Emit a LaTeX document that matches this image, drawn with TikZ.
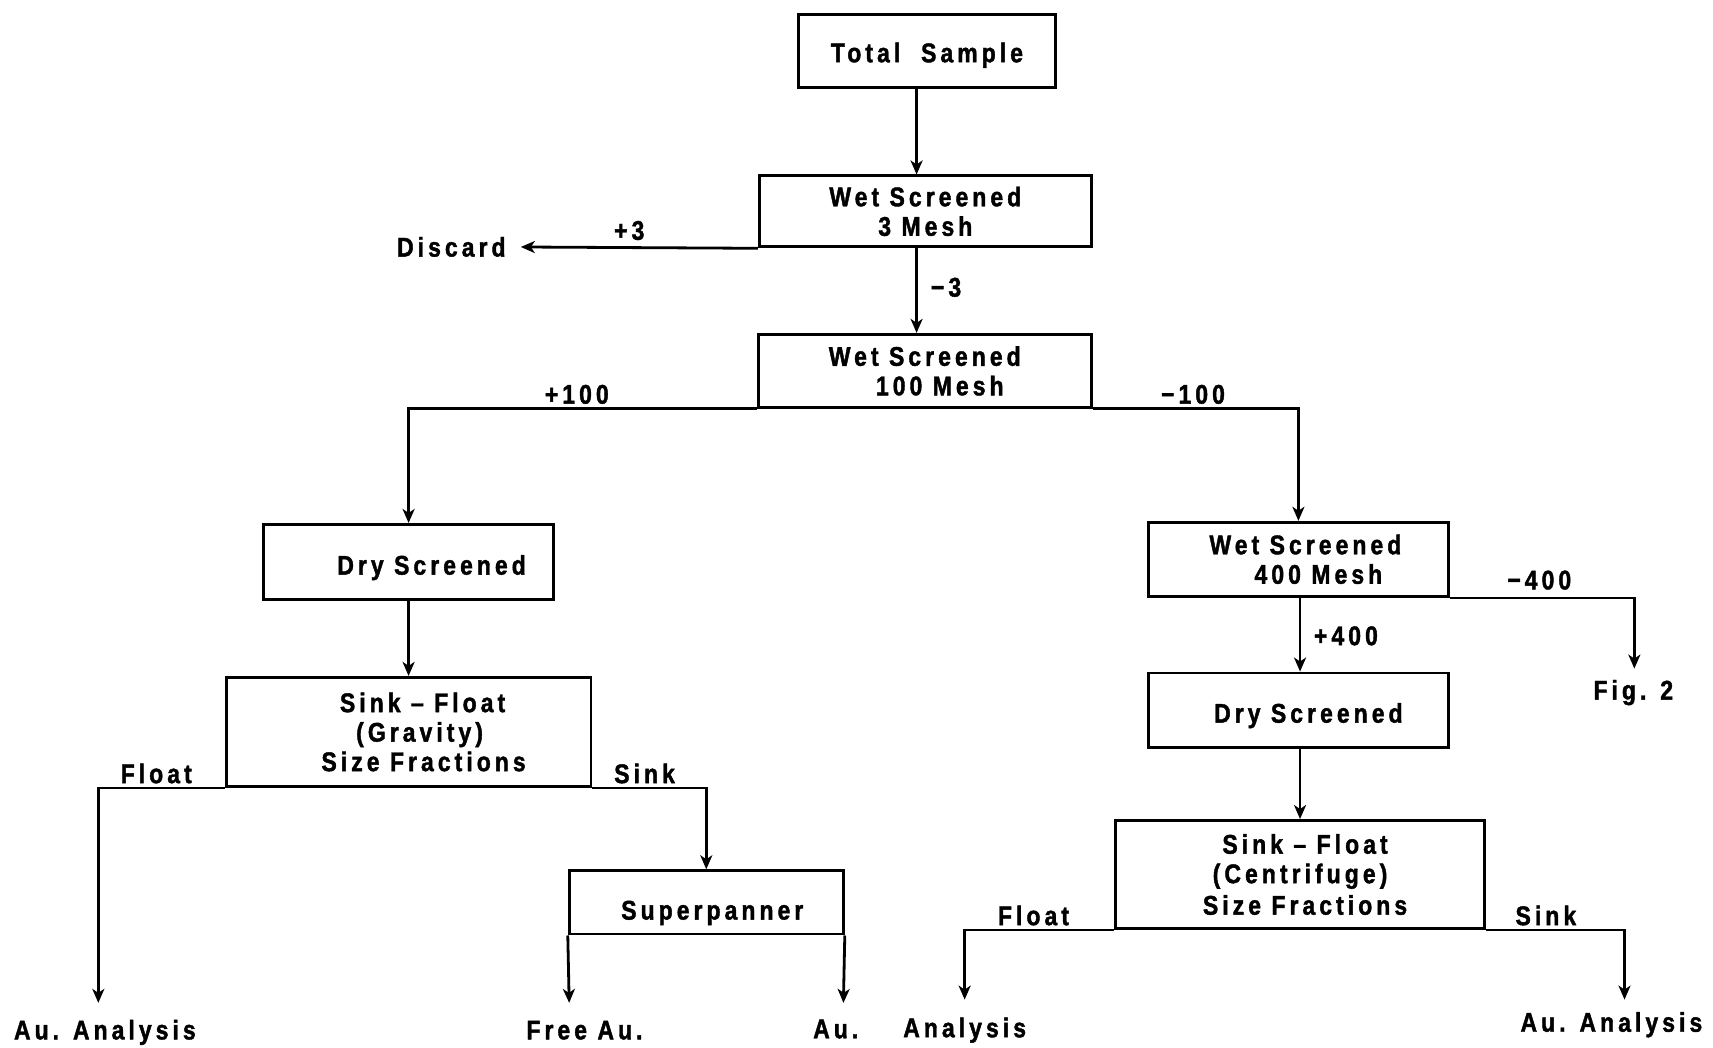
\documentclass[tikz,border=0pt]{standalone}
\usepackage{fontspec}
\usetikzlibrary{arrows.meta}
\newfontfamily\flowfam{Liberation Sans}[FakeStretch=0.85,LetterSpace=15,FakeBold=1.5]
\newcommand{\flowfont}{\flowfam\bfseries\fontsize{27}{29.5}\selectfont}
\begin{document}
\begin{tikzpicture}[x=1.0925pt,y=-1.0925pt,
  txt/.style={font=\flowfont, inner sep=1pt},
  box/.style={draw, line width=2.8pt, align=center, font=\flowfont, inner sep=0pt},
  arr/.style={-{Stealth[length=14pt,width=12pt,inset=4pt]}, line width=2.8pt},
  ln/.style={line width=2.8pt}]
\useasboundingbox (0,0) rectangle (1568,959);

% boxes
\node[box, minimum width=256.7pt, minimum height=73.2pt] (ts) at (848.5,46.5) {\rule{0pt}{28.5pt}Total\ \ Sample};
\node[box, minimum width=332.1pt, minimum height=71pt] (ws3) at (847,193.5) {Wet Screened\\3 Mesh};
\node[box, minimum width=333.2pt, minimum height=73.2pt] (ws100) at (846.5,339.5) {Wet Screened\\\hspace*{30pt}100 Mesh};
\node[box, minimum width=290.6pt, minimum height=75.4pt] (ds1) at (374,514.5) {\rule{0pt}{30.7pt}\hspace*{46pt}Dry Screened};
\node[box, minimum width=364.9pt, minimum height=109.3pt] (sfg) at (374,670) {\hspace*{28pt}Sink – Float\\\hspace*{22pt}(Gravity)\\\hspace*{30pt}Size Fractions};
\node[box, minimum width=274.2pt, minimum height=63.4pt] (sp) at (646.5,826) {\rule{0pt}{40pt}\hspace*{12pt}Superpanner};
\node[box, minimum width=300.4pt, minimum height=74.3pt] (ws400) at (1188.5,512) {\hspace*{14pt}Wet Screened\\\hspace*{40pt}400 Mesh};
\node[box, minimum width=300.4pt, minimum height=74.3pt] (ds2) at (1188.5,650) {\rule{0pt}{30.7pt}\hspace*{20pt}Dry Screened};
\node[box, minimum width=369.3pt, minimum height=108.2pt] (sfc) at (1190,800.5) {\hspace*{10pt}Sink – Float\\(Centrifuge)\\[2pt]\hspace*{10pt}Size Fractions};

% labels
\node[txt, anchor=east, inner sep=0pt] (discard) at (463,226) {Discard};
\node[txt] (p3) at (576,211) {+3};
\node[txt] (m3) at (866,263) {−3};
\node[txt] (p100) at (528,361) {+100};
\node[txt] (m100) at (1092,361) {−100};
\node[txt] (fl1) at (143,708) {Float};
\node[txt] (sk1) at (590,708) {Sink};
\node[txt] (aa1) at (96,945) {Au. Analysis};
\node[txt] (free) at (535,943) {Free Au.};
\node[txt] (au) at (765,942) {Au.};
\node[txt] (m400) at (1409,531) {−400};
\node[txt] (p400) at (1232,582) {+400};
\node[txt] (fig) at (1495,634) {Fig. 2};
\node[txt] (fl2) at (946,838) {Float};
\node[txt] (sk2) at (1415,838) {Sink};
\node[txt] (an2) at (883,943) {Analysis};
\node[txt] (aa2) at (1475,938) {Au. Analysis};

% helper coordinates
\coordinate (c1) at (839,0);
\coordinate (c2) at (1190,0);
\coordinate (e1) at (90,918);
\coordinate (e2) at (521,918);
\coordinate (e3) at (772,918);
\coordinate (e4) at (883,915);
\coordinate (e5) at (1487,915);
\coordinate (e6) at (1496,612);

% connectors
\draw[arr] (ts.south -| c1) -- (ws3.north -| c1);
\draw[arr, shorten >=15pt] (ws3.south west) -- (discard.east);
\draw[arr] (ws3.south -| c1) -- (ws100.north -| c1);
\draw[arr] (ws100.south west) -| (ds1.north);
\draw[arr] (ws100.south east) -| (ws400.north);
\draw[arr] (ds1.south) -- (sfg.north);
\draw[arr] (sfg.south west) -| (e1);
\draw[arr] (sfg.south east) -| (sp.north);
\draw[arr] (sp.south west) -- (e2);
\draw[arr] (sp.south east) -- (e3);
\draw[arr] (ws400.south east) -| (e6);
\draw[arr] (ws400.south -| c2) -- (ds2.north -| c2);
\draw[arr] (ds2.south -| c2) -- (sfc.north -| c2);
\draw[arr] (sfc.south west) -| (e4);
\draw[arr] (sfc.south east) -| (e5);
\end{tikzpicture}
\end{document}
